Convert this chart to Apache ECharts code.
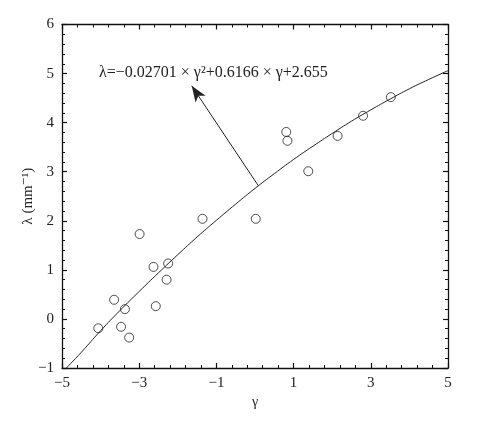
<!DOCTYPE html>
<html><head><meta charset="utf-8">
<script src="https://cdn.jsdelivr.net/npm/echarts@6/dist/echarts.min.js"></script>
<style>html,body{margin:0;padding:0;background:#fff}#c{width:486px;height:422px}</style>
</head><body><div id="c"></div>
<script>
// measured points (gamma, lambda)
const gammaObs = [-4.06, -3.65, -3.37, -3.47, -3.26, -2.99, -2.63, -2.57, -2.29, -2.25, -1.36, 0.02, 0.81, 0.84, 1.38, 2.14, 2.80, 3.52];
const lambdaObs = [-0.19, 0.39, 0.20, -0.16, -0.38, 1.73, 1.06, 0.26, 0.80, 1.13, 2.04, 2.04, 3.81, 3.63, 3.01, 3.73, 4.14, 4.52];
// fitted curve
const gammaFit = [-4.9, -4.5, -4, -3.5, -3, -2.5, -2, -1.5, -1, -0.5, 0, 0.5, 1, 1.5, 2, 2.5, 3, 3.5, 4, 4.5, 5];
const lambdaFit = [-1.01, -0.68, -0.24, 0.17, 0.56, 0.94, 1.31, 1.67, 2.01, 2.34, 2.66, 2.96, 3.25, 3.52, 3.78, 4.03, 4.26, 4.48, 4.69, 4.88, 5.06];
// annotation arrow (from curve to label), data coords
const arrowFrom = [0.09, 2.71];
const arrowTo = [-1.64, 4.75];
const xTicks = [-5, -3, -1, 1, 3, 5];
const yTicks = [-1, 0, 1, 2, 3, 4, 5, 6];
const equation = 'λ=−0.02701 × γ²+0.6166 × γ+2.655';

const serif = '"Liberation Serif", "DejaVu Serif", serif';
const fmt = v => (v < 0 ? '−' + Math.abs(v) : '' + v);
const axisCommon = {
  axisLine: {show: true, onZero: false, lineStyle: {color: '#111', width: 1.3}},
  axisTick: {show: true, inside: true, length: 5, lineStyle: {color: '#111', width: 1.2}},
  minorTick: {show: true, splitNumber: 5, length: 3, lineStyle: {color: '#111', width: 1}},
  splitLine: {show: false}
};
const chart = echarts.init(document.getElementById('c'));
chart.setOption({
  animation: false,
  backgroundColor: '#fff',
  grid: {left: 62, right: 38, top: 24.5, bottom: 54},
  xAxis: [
    Object.assign({type: 'value', position: 'bottom', min: xTicks[0], max: xTicks[xTicks.length-1], interval: 2,
      name: 'γ', nameLocation: 'middle', nameGap: 27, nameMoveOverlap: false,
      nameTextStyle: {fontFamily: serif, fontSize: 14, color: '#222'},
      axisLabel: {fontFamily: serif, fontSize: 15, color: '#222', margin: 8, formatter: fmt}}, axisCommon),
    Object.assign({type: 'value', position: 'top', min: xTicks[0], max: xTicks[xTicks.length-1], interval: 2,
      axisLabel: {show: false}}, axisCommon)
  ],
  yAxis: [
    Object.assign({type: 'value', position: 'left', min: yTicks[0], max: yTicks[yTicks.length-1], interval: 1,
      name: 'λ (mm⁻¹)', nameLocation: 'middle', nameGap: 26, nameMoveOverlap: false,
      nameTextStyle: {fontFamily: serif, fontSize: 15, color: '#222'},
      axisLabel: {fontFamily: serif, fontSize: 15, color: '#222', margin: 8, formatter: fmt}}, axisCommon),
    Object.assign({type: 'value', position: 'right', min: yTicks[0], max: yTicks[yTicks.length-1], interval: 1,
      axisLabel: {show: false}}, axisCommon)
  ],
  series: [
    {
      type: 'line', xAxisIndex: 0, yAxisIndex: 0,
      data: gammaFit.map((g, i) => [g, lambdaFit[i]]),
      smooth: true, showSymbol: false, clip: true,
      lineStyle: {color: '#222', width: 1},
      markLine: {
        silent: true,
        symbol: ['none', 'arrow'], symbolSize: [9, 16],
        label: {show: false},
        lineStyle: {color: '#222', width: 1, type: 'solid'},
        data: [[{coord: arrowFrom}, {coord: arrowTo}]]
      }
    },
    {
      type: 'scatter', xAxisIndex: 0, yAxisIndex: 0,
      data: gammaObs.map((g, i) => [g, lambdaObs[i]]),
      symbol: 'circle', symbolSize: 9,
      itemStyle: {color: 'rgba(255,255,255,0)', borderColor: '#222', borderWidth: 1}
    }
  ],
  graphic: [{
    type: 'text', left: 99, top: 65,
    style: {text: equation, font: '16px ' + serif, fill: '#222'}
  }]
});
</script></body></html>
